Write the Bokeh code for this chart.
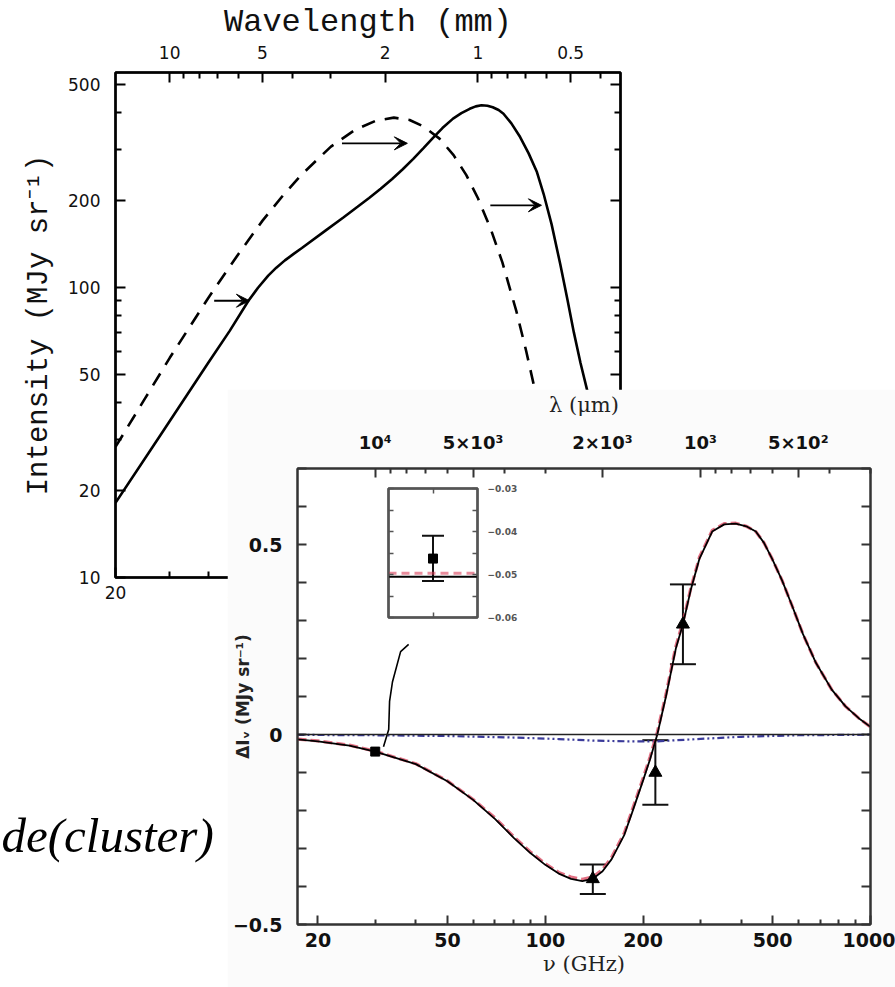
from bokeh.plotting import figure
from bokeh.models import (FixedTicker, Range1d, LogAxis, LinearAxis, Arrow, VeeHead,
                          Whisker, TeeHead, CustomJSTickFormatter, ColumnDataSource, Span)
from bokeh.core.properties import value
from bokeh.embed import file_html
from bokeh.resources import INLINE

# ---------------- upper panel: CMB spectrum (dashed) and distorted spectrum (solid)
cmb_freq_ghz = [20, 25, 30, 40, 50, 60, 70, 80, 100, 120, 140, 160, 180, 200, 225,
                250, 275, 300, 330, 360, 400, 430, 454, 480]
cmb_intensity = [28.2, 41.6, 57.2, 92, 130, 170, 208, 244, 306, 350, 376, 385, 378, 359, 326,
                 286, 244, 203, 159, 122, 82.5, 60.4, 46.7, 34.8]
sz_freq_ghz = [20, 28, 40, 47, 54, 58, 62.6, 66.5, 70.9, 75.5, 80.5, 96, 110, 122, 133, 145,
               158, 171, 185, 200, 214, 230, 249, 265, 282, 295, 308, 322, 335, 350, 363,
               385, 411, 438, 466, 490, 520, 555, 585, 614, 645, 679, 720]
sz_intensity = [18.1, 31, 55, 71, 90, 99.8, 109.9, 117, 124, 130.3, 136.8, 157, 174.6, 189.7,
                203.6, 219, 236.7, 255.6, 277.5, 303, 327.5, 354.5, 382, 399, 413, 421, 425,
                423, 418, 409, 397, 368, 330, 290, 250, 210, 165, 120, 91, 70, 55, 44, 34]
arrow_start_ghz = [41.8, 108.6, 329]
arrow_end_ghz = [54.4, 177, 482]
arrow_intensity = [90, 314, 192]

upper_freq_major = [20, 50, 100, 200, 500]
upper_freq_labels = ["20", "50", "100", "200", "500"]
upper_freq_minor = [30, 40, 60, 70, 80, 90, 300, 400, 600, 700, 800]
upper_wl_major_mm = [10, 5, 2, 1, 0.5]
upper_wl_labels = ["10", "5", "2", "1", "0.5"]
upper_wl_minor_mm = [9, 8, 7, 6, 4, 3, 0.9, 0.8, 0.7, 0.6, 0.4]
upper_int_major = [10, 20, 50, 100, 200, 500]
upper_int_labels = ["10", "20", "50", "100", "200", "500"]
upper_int_minor = [30, 40, 60, 70, 80, 90, 300, 400]

# ---------------- lower panel: SZ spectral distortion
lower_freq = [17.3, 20, 25, 30, 40, 50, 60, 70, 80, 90, 100, 110, 120, 130, 140, 150, 160,
              175, 185, 200, 210, 221, 235, 252, 265, 280, 298, 326, 355, 385, 415, 444,
              470, 498, 535, 572, 620, 680, 760, 838, 920, 1000]
lower_total = [-0.013, -0.018, -0.029, -0.045, -0.078, -0.123, -0.172, -0.222, -0.272, -0.312,
               -0.343, -0.366, -0.38, -0.386, -0.38, -0.36, -0.328, -0.264, -0.205, -0.12,
               -0.065, 0.0, 0.1, 0.226, 0.29, 0.38, 0.463, 0.534, 0.553, 0.555, 0.548, 0.534,
               0.505, 0.463, 0.405, 0.342, 0.264, 0.188, 0.118, 0.074, 0.043, 0.02]
lower_thermal = [-0.012, -0.017, -0.028, -0.044, -0.077, -0.122, -0.171, -0.219, -0.269, -0.309,
                 -0.340, -0.363, -0.375, -0.381, -0.375, -0.355, -0.323, -0.259, -0.199, -0.114,
                 -0.059, 0.006, 0.106, 0.232, 0.296, 0.384, 0.467, 0.537, 0.555, 0.556, 0.548,
                 0.534, 0.505, 0.463, 0.405, 0.342, 0.264, 0.188, 0.118, 0.074, 0.043, 0.02]
kin_freq = [17.3, 30, 50, 80, 110, 140, 180, 220, 280, 400, 600, 1000]
kin_values = [-0.001, -0.002, -0.004, -0.008, -0.012, -0.016, -0.018, -0.018, -0.013,
              -0.006, -0.002, -0.0005]

sq_freq = [30]
sq_val = [-0.045]
tri_freq = [140, 218, 265]
tri_val = [-0.38, -0.10, 0.29]
tri_lo = [-0.42, -0.185, 0.185]
tri_hi = [-0.342, -0.015, 0.395]

connector_freq = [38.0, 35.9, 33.9, 33.2, 33.0, 31.8]
connector_val = [0.237, 0.218, 0.139, 0.087, 0.013, -0.032]

lower_freq_major = [20, 50, 100, 200, 500, 1000]
lower_freq_labels = ["20", "50", "100", "200", "500", "1000"]
lower_freq_minor = [30, 40, 60, 70, 80, 90, 300, 400, 600, 700, 800, 900]
lower_wl_major_um = [10000, 5000, 2000, 1000, 500]
lower_wl_labels = ["10\u2074", "5\u00d710\u00b3", "2\u00d710\u00b3", "10\u00b3", "5\u00d710\u00b2"]
lower_wl_minor_um = [9000, 8000, 7000, 6000, 4000, 3000, 900, 800, 700, 600, 400, 300]
lower_y_major = [-0.5, 0, 0.5]
lower_y_labels = ["\u22120.5", "0", "0.5"]
lower_y_minor = [-0.4, -0.3, -0.2, -0.1, 0.1, 0.2, 0.3, 0.4, 0.6, 0.7]

# ---------------- inset
inset_freq = [30]
inset_val = [-0.0463]
inset_lo = [-0.0515]
inset_hi = [-0.041]
inset_total_level = -0.0505
inset_thermal_level = -0.0497
inset_y_major = [-0.06, -0.05, -0.04, -0.03]
inset_y_labels = ["\u22120.06", "\u22120.05", "\u22120.04", "\u22120.03"]
inset_y_minor = [-0.055, -0.045, -0.035]

caption = ["de(cluster)"]

C_MM = 299.79      # lambda[mm] = C_MM / nu[GHz]
C_UM = 299792.0    # lambda[um] = C_UM / nu[GHz]


def fmt(tick_vals, tick_labels):
    return CustomJSTickFormatter(args=dict(tv=list(tick_vals), tl=list(tick_labels)), code="""
        for (let i = 0; i < tv.length; i++) {
            if (Math.abs(tv[i] - tick) <= 1e-6 * Math.max(1, Math.abs(tv[i]))) return tl[i];
        }
        return '';
    """)


def style(ax, tick_major=10, tick_minor=6, lw=2, color="black", font="DejaVu Sans",
          size="17px", weight="normal", standoff=10):
    ax.major_tick_in = tick_major
    ax.major_tick_out = 0
    ax.minor_tick_in = tick_minor
    ax.minor_tick_out = 0
    ax.major_tick_line_width = lw
    ax.minor_tick_line_width = lw
    ax.major_tick_line_color = color
    ax.minor_tick_line_color = color
    ax.axis_line_width = lw
    ax.axis_line_color = color
    ax.major_label_text_font = font
    ax.major_label_text_font_size = size
    ax.major_label_text_font_style = weight
    ax.major_label_text_color = "#111111"
    ax.major_label_standoff = standoff


# ================= Upper figure =================
pA = figure(frame_width=505, frame_height=505, x_axis_type="log", y_axis_type="log",
            x_range=Range1d(20, 870), y_range=Range1d(10, 551),
            output_backend="svg", toolbar_location=None,
            min_border_left=115, min_border_top=72, min_border_right=5, min_border_bottom=30)
pA.xgrid.visible = False
pA.ygrid.visible = False
pA.outline_line_color = "black"
pA.outline_line_width = 2.5

axb = pA.below[0]
axb.ticker = FixedTicker(ticks=upper_freq_major, minor_ticks=upper_freq_minor)
axb.formatter = fmt(upper_freq_major, upper_freq_labels)
style(axb, standoff=8)

axl = pA.left[0]
axl.ticker = FixedTicker(ticks=upper_int_major, minor_ticks=upper_int_minor)
axl.formatter = fmt(upper_int_major, upper_int_labels)
style(axl, standoff=15)
axl.axis_label = "Intensity (MJy sr\u207b\u00b9)"
axl.axis_label_text_font = "Liberation Mono"
axl.axis_label_text_font_style = "normal"
axl.axis_label_text_font_size = "29px"
axl.axis_label_text_color = "#111111"
axl.axis_label_standoff = 9

axt = LogAxis(ticker=FixedTicker(ticks=[C_MM / w for w in upper_wl_major_mm],
                                 minor_ticks=[C_MM / w for w in upper_wl_minor_mm]),
              formatter=fmt([C_MM / w for w in upper_wl_major_mm], upper_wl_labels))
style(axt, standoff=14)
axt.axis_label = "Wavelength (mm)"
axt.axis_label_text_font = "Liberation Mono"
axt.axis_label_text_font_style = "normal"
axt.axis_label_text_font_size = "32px"
axt.axis_label_text_color = "#111111"
axt.axis_label_standoff = 2
pA.add_layout(axt, "above")

axr = LogAxis(ticker=FixedTicker(ticks=upper_int_major, minor_ticks=upper_int_minor),
              formatter=fmt([], []))
style(axr, size="1px", standoff=0)
pA.add_layout(axr, "right")

pA.line(cmb_freq_ghz, cmb_intensity, line_color="black", line_width=2.6, line_dash="14 10")
pA.line(sz_freq_ghz, sz_intensity, line_color="black", line_width=2.6)
for f0, f1, iv in zip(arrow_start_ghz, arrow_end_ghz, arrow_intensity):
    pA.add_layout(Arrow(x_start=f0, y_start=iv, x_end=f1, y_end=iv, line_width=1.8,
                        line_color="black",
                        end=VeeHead(size=13, fill_color="black", line_color="black")))

# ================= Lower figure =================
pB = figure(frame_width=573, frame_height=456, x_axis_type="log",
            x_range=Range1d(17.3, 1000), y_range=Range1d(-0.5, 0.7),
            output_backend="svg", toolbar_location=None,
            min_border_left=70, min_border_top=78, min_border_right=25, min_border_bottom=64)
pB.xgrid.visible = False
pB.ygrid.visible = False
pB.background_fill_color = "white"
pB.border_fill_color = "#fbfbfb"
pB.outline_line_color = "#333333"
pB.outline_line_width = 2

bb = pB.below[0]
bb.ticker = FixedTicker(ticks=lower_freq_major, minor_ticks=lower_freq_minor)
bb.formatter = fmt(lower_freq_major, lower_freq_labels)
style(bb, tick_major=9, tick_minor=5, lw=2, color="#333333", size="19px", weight="bold", standoff=8)
bb.axis_label = "\u03bd (GHz)"
bb.axis_label_text_font = "DejaVu Serif"
bb.axis_label_text_font_style = "normal"
bb.axis_label_text_font_size = "21px"
bb.axis_label_text_color = "#222222"
bb.axis_label_standoff = 2

bl = pB.left[0]
bl.ticker = FixedTicker(ticks=lower_y_major, minor_ticks=lower_y_minor)
bl.formatter = fmt(lower_y_major, lower_y_labels)
style(bl, tick_major=9, tick_minor=9, lw=2, color="#333333", size="19px", weight="bold", standoff=15)
bl.axis_label = "\u0394I\u1d65 (MJy sr\u207b\u00b9)"
bl.axis_label_text_font = "DejaVu Sans"
bl.axis_label_text_font_style = "bold"
bl.axis_label_text_font_size = "17px"
bl.axis_label_text_color = "#222222"
bl.axis_label_standoff = -23

bt = LogAxis(ticker=FixedTicker(ticks=[C_UM / w for w in lower_wl_major_um],
                                minor_ticks=[C_UM / w for w in lower_wl_minor_um]),
             formatter=fmt([C_UM / w for w in lower_wl_major_um], lower_wl_labels))
style(bt, tick_major=9, tick_minor=5, lw=2, color="#333333", size="18px", weight="bold", standoff=16)
bt.axis_label = "\u03bb (\u03bcm)"
bt.axis_label_text_font = "DejaVu Serif"
bt.axis_label_text_font_style = "normal"
bt.axis_label_text_font_size = "21px"
bt.axis_label_text_color = "#222222"
bt.axis_label_standoff = 12
pB.add_layout(bt, "above")

br = LinearAxis(ticker=FixedTicker(ticks=lower_y_major, minor_ticks=lower_y_minor),
                formatter=fmt([], []))
style(br, tick_major=9, tick_minor=9, lw=2, color="#333333", size="1px", standoff=0)
pB.add_layout(br, "right")

pB.add_layout(Span(location=0, dimension="width", line_color="#222222", line_width=1.6))
pB.line(kin_freq, kin_values, line_color="#3b3b9a", line_width=2.2, line_dash="7 3 2 3 2 3")
pB.line(lower_freq, lower_thermal, line_color="#d8405a", line_width=3.2, line_alpha=0.75,
        line_dash="9 4")
pB.line(lower_freq, lower_total, line_color="black", line_width=1.8)
pB.line(connector_freq, connector_val, line_color="black", line_width=1.6)

tri_src = ColumnDataSource(dict(f=tri_freq, v=tri_val, lo=tri_lo, hi=tri_hi))
pB.add_layout(Whisker(base="f", upper="hi", lower="lo", source=tri_src, line_width=2,
                      line_color="#111111",
                      upper_head=TeeHead(size=26, line_width=2, line_color="#111111"),
                      lower_head=TeeHead(size=26, line_width=2, line_color="#111111")))
pB.scatter("f", "v", source=tri_src, marker="triangle", size=13, color="black")
pB.scatter(sq_freq, sq_val, marker="square", size=9, color="black")

# ================= Inset =================
pD = figure(frame_width=89, frame_height=129, x_range=Range1d(27, 33),
            y_range=Range1d(-0.06, -0.03),
            output_backend="svg", toolbar_location=None,
            x_axis_location=None, y_axis_location=None,
            min_border_left=8, min_border_top=8, min_border_right=5, min_border_bottom=8)
pD.xgrid.visible = False
pD.ygrid.visible = False
pD.background_fill_color = "white"
pD.border_fill_alpha = 0
pD.outline_line_color = "#444444"
pD.outline_line_width = 2.5

for loc in ("above", "below"):
    a = LinearAxis(ticker=FixedTicker(ticks=inset_freq, minor_ticks=[]), formatter=fmt([], []))
    style(a, tick_major=5, tick_minor=0, lw=1.5, color="#555555", size="1px", standoff=0)
    pD.add_layout(a, loc)
ai = LinearAxis(ticker=FixedTicker(ticks=inset_y_major, minor_ticks=inset_y_minor),
                formatter=fmt([], []))
style(ai, tick_major=5, tick_minor=5, lw=1.5, color="#555555", size="1px", standoff=0)
pD.add_layout(ai, "left")
ar = LinearAxis(ticker=FixedTicker(ticks=inset_y_major, minor_ticks=inset_y_minor),
                formatter=fmt(inset_y_major, inset_y_labels))
style(ar, tick_major=5, tick_minor=5, lw=1.5, color="#555555", size="9px", weight="bold",
      standoff=10)
ar.major_label_text_color = "#555555"
pD.add_layout(ar, "right")

pD.line([27, 33], [inset_thermal_level, inset_thermal_level], line_color="#d8405a",
        line_width=3, line_alpha=0.6, line_dash="8 5")
pD.line([27, 33], [inset_total_level, inset_total_level], line_color="black", line_width=2)
ins_src = ColumnDataSource(dict(f=inset_freq, v=inset_val, lo=inset_lo, hi=inset_hi))
pD.add_layout(Whisker(base="f", upper="hi", lower="lo", source=ins_src, line_width=2,
                      line_color="#111111",
                      upper_head=TeeHead(size=22, line_width=2, line_color="#111111"),
                      lower_head=TeeHead(size=22, line_width=2, line_color="#111111")))
pD.scatter("f", "v", source=ins_src, marker="square", size=9, color="black")

# ================= Caption fragment =================
pC = figure(frame_width=225, frame_height=100, x_range=Range1d(0, 225), y_range=Range1d(0, 100),
            output_backend="svg", toolbar_location=None, min_border=0,
            x_axis_location=None, y_axis_location=None)
pC.xgrid.visible = False
pC.ygrid.visible = False
pC.outline_line_color = None
pC.background_fill_alpha = 0
pC.border_fill_alpha = 0
pC.text(x=[1], y=[55], text=caption, text_font=value("Liberation Serif"),
        text_font_style="italic", text_font_size="49px", text_baseline="alphabetic",
        text_color="black")

# ================= Composite: each panel placed at its own spot on the page =================
placements = [(pA, 0, 0), (pB, 227, 389), (pD, 380, 480), (pC, 0, 790)]
for fig, left, top in placements:
    fig.styles = {"position": "absolute", "left": f"{left}px", "top": f"{top}px"}

p = [pA, pB, pD, pC]
open("out.html", "w").write(file_html(p, INLINE))
